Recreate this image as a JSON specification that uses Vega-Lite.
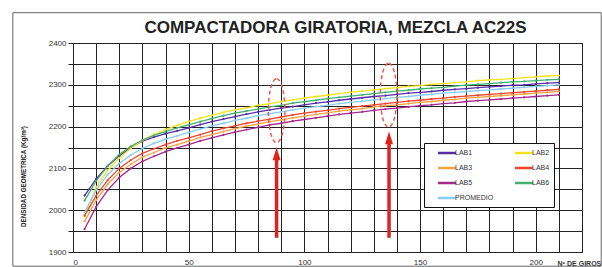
{
  "$schema": "https://vega.github.io/schema/vega-lite/v6.json",
  "width": 509,
  "height": 209,
  "autosize": "none",
  "padding": {"left": 73, "top": 43, "right": 20, "bottom": 15},
  "background": "white",
  "title": {"text": "COMPACTADORA GIRATORIA, MEZCLA AC22S", "font": "Liberation Sans", "fontSize": 17, "fontWeight": "bold", "color": "#222", "anchor": "middle", "dx": 8, "offset": -38, "baseline": "alphabetic"},
  "config": {"view": {"stroke": "#222", "strokeWidth": 1}, "font": "Liberation Sans"},
  "datasets": {
    "curves": [
      {"x": 5, "LAB1": 2035, "LAB2": 1985, "LAB3": 1973, "LAB4": 1987, "LAB5": 1955, "LAB6": 2023, "PROMEDIO": 1995},
      {"x": 10, "LAB1": 2075, "LAB2": 2055, "LAB3": 2024, "LAB4": 2035, "LAB5": 2008, "LAB6": 2070, "PROMEDIO": 2048},
      {"x": 15, "LAB1": 2106, "LAB2": 2095, "LAB3": 2062, "LAB4": 2072, "LAB5": 2048, "LAB6": 2106, "PROMEDIO": 2085},
      {"x": 20, "LAB1": 2130, "LAB2": 2125, "LAB3": 2090, "LAB4": 2100, "LAB5": 2078, "LAB6": 2133, "PROMEDIO": 2112},
      {"x": 25, "LAB1": 2150, "LAB2": 2148, "LAB3": 2110, "LAB4": 2120, "LAB5": 2100, "LAB6": 2153, "PROMEDIO": 2132},
      {"x": 30, "LAB1": 2165, "LAB2": 2167, "LAB3": 2127, "LAB4": 2136, "LAB5": 2117, "LAB6": 2168, "PROMEDIO": 2148},
      {"x": 35, "LAB1": 2175, "LAB2": 2181, "LAB3": 2138, "LAB4": 2147, "LAB5": 2129, "LAB6": 2179, "PROMEDIO": 2160},
      {"x": 40, "LAB1": 2183, "LAB2": 2193, "LAB3": 2149, "LAB4": 2157, "LAB5": 2140, "LAB6": 2188, "PROMEDIO": 2170},
      {"x": 45, "LAB1": 2190, "LAB2": 2203, "LAB3": 2157, "LAB4": 2166, "LAB5": 2149, "LAB6": 2197, "PROMEDIO": 2178},
      {"x": 50, "LAB1": 2197, "LAB2": 2212, "LAB3": 2165, "LAB4": 2173, "LAB5": 2157, "LAB6": 2204, "PROMEDIO": 2186},
      {"x": 55, "LAB1": 2205, "LAB2": 2220, "LAB3": 2174, "LAB4": 2181, "LAB5": 2166, "LAB6": 2212, "PROMEDIO": 2194},
      {"x": 60, "LAB1": 2212, "LAB2": 2227, "LAB3": 2181, "LAB4": 2189, "LAB5": 2173, "LAB6": 2219, "PROMEDIO": 2202},
      {"x": 65, "LAB1": 2218, "LAB2": 2234, "LAB3": 2188, "LAB4": 2196, "LAB5": 2180, "LAB6": 2226, "PROMEDIO": 2208},
      {"x": 70, "LAB1": 2224, "LAB2": 2240, "LAB3": 2195, "LAB4": 2202, "LAB5": 2187, "LAB6": 2232, "PROMEDIO": 2215},
      {"x": 75, "LAB1": 2230, "LAB2": 2245, "LAB3": 2201, "LAB4": 2208, "LAB5": 2193, "LAB6": 2237, "PROMEDIO": 2220},
      {"x": 80, "LAB1": 2235, "LAB2": 2251, "LAB3": 2206, "LAB4": 2213, "LAB5": 2198, "LAB6": 2242, "PROMEDIO": 2226},
      {"x": 85, "LAB1": 2240, "LAB2": 2255, "LAB3": 2212, "LAB4": 2218, "LAB5": 2204, "LAB6": 2247, "PROMEDIO": 2231},
      {"x": 90, "LAB1": 2244, "LAB2": 2260, "LAB3": 2216, "LAB4": 2223, "LAB5": 2208, "LAB6": 2251, "PROMEDIO": 2235},
      {"x": 95, "LAB1": 2248, "LAB2": 2264, "LAB3": 2221, "LAB4": 2228, "LAB5": 2213, "LAB6": 2256, "PROMEDIO": 2240},
      {"x": 100, "LAB1": 2252, "LAB2": 2268, "LAB3": 2225, "LAB4": 2232, "LAB5": 2217, "LAB6": 2260, "PROMEDIO": 2244},
      {"x": 105, "LAB1": 2256, "LAB2": 2272, "LAB3": 2229, "LAB4": 2236, "LAB5": 2221, "LAB6": 2263, "PROMEDIO": 2248},
      {"x": 110, "LAB1": 2259, "LAB2": 2275, "LAB3": 2233, "LAB4": 2239, "LAB5": 2225, "LAB6": 2267, "PROMEDIO": 2251},
      {"x": 115, "LAB1": 2263, "LAB2": 2279, "LAB3": 2237, "LAB4": 2243, "LAB5": 2229, "LAB6": 2270, "PROMEDIO": 2255},
      {"x": 120, "LAB1": 2266, "LAB2": 2282, "LAB3": 2240, "LAB4": 2246, "LAB5": 2232, "LAB6": 2273, "PROMEDIO": 2258},
      {"x": 125, "LAB1": 2269, "LAB2": 2285, "LAB3": 2243, "LAB4": 2249, "LAB5": 2235, "LAB6": 2276, "PROMEDIO": 2261},
      {"x": 130, "LAB1": 2272, "LAB2": 2288, "LAB3": 2247, "LAB4": 2252, "LAB5": 2239, "LAB6": 2279, "PROMEDIO": 2264},
      {"x": 135, "LAB1": 2274, "LAB2": 2291, "LAB3": 2250, "LAB4": 2255, "LAB5": 2242, "LAB6": 2282, "PROMEDIO": 2267},
      {"x": 140, "LAB1": 2277, "LAB2": 2293, "LAB3": 2252, "LAB4": 2258, "LAB5": 2244, "LAB6": 2285, "PROMEDIO": 2270},
      {"x": 145, "LAB1": 2280, "LAB2": 2296, "LAB3": 2255, "LAB4": 2261, "LAB5": 2247, "LAB6": 2287, "PROMEDIO": 2272},
      {"x": 150, "LAB1": 2282, "LAB2": 2298, "LAB3": 2258, "LAB4": 2263, "LAB5": 2250, "LAB6": 2290, "PROMEDIO": 2275},
      {"x": 155, "LAB1": 2284, "LAB2": 2301, "LAB3": 2260, "LAB4": 2266, "LAB5": 2252, "LAB6": 2292, "PROMEDIO": 2277},
      {"x": 160, "LAB1": 2287, "LAB2": 2303, "LAB3": 2263, "LAB4": 2268, "LAB5": 2255, "LAB6": 2294, "PROMEDIO": 2280},
      {"x": 165, "LAB1": 2289, "LAB2": 2305, "LAB3": 2265, "LAB4": 2271, "LAB5": 2257, "LAB6": 2297, "PROMEDIO": 2282},
      {"x": 170, "LAB1": 2291, "LAB2": 2307, "LAB3": 2268, "LAB4": 2273, "LAB5": 2260, "LAB6": 2299, "PROMEDIO": 2284},
      {"x": 175, "LAB1": 2293, "LAB2": 2310, "LAB3": 2270, "LAB4": 2275, "LAB5": 2262, "LAB6": 2301, "PROMEDIO": 2286},
      {"x": 180, "LAB1": 2295, "LAB2": 2312, "LAB3": 2272, "LAB4": 2277, "LAB5": 2264, "LAB6": 2303, "PROMEDIO": 2288},
      {"x": 185, "LAB1": 2297, "LAB2": 2313, "LAB3": 2274, "LAB4": 2279, "LAB5": 2266, "LAB6": 2305, "PROMEDIO": 2290},
      {"x": 190, "LAB1": 2299, "LAB2": 2315, "LAB3": 2276, "LAB4": 2281, "LAB5": 2268, "LAB6": 2307, "PROMEDIO": 2292},
      {"x": 195, "LAB1": 2300, "LAB2": 2317, "LAB3": 2278, "LAB4": 2283, "LAB5": 2270, "LAB6": 2308, "PROMEDIO": 2294},
      {"x": 200, "LAB1": 2302, "LAB2": 2319, "LAB3": 2280, "LAB4": 2285, "LAB5": 2272, "LAB6": 2310, "PROMEDIO": 2296},
      {"x": 205, "LAB1": 2304, "LAB2": 2321, "LAB3": 2282, "LAB4": 2287, "LAB5": 2274, "LAB6": 2312, "PROMEDIO": 2298},
      {"x": 210, "LAB1": 2305, "LAB2": 2322, "LAB3": 2284, "LAB4": 2289, "LAB5": 2276, "LAB6": 2313, "PROMEDIO": 2300}
    ],
    "ellipses": [
      {"x": 88, "y": 2238},
      {"x": 136.4, "y": 2275}
    ],
    "arrows": [
      {"x": 88, "y0": 1934, "y1": 2131},
      {"x": 136.6, "y0": 1934, "y1": 2169}
    ],
    "frame": [
      {"x0": -26, "x1": 228.3, "y0": 1866, "y1": 2472.5}
    ]
  },
  "layer": [
    {
      "data": {"name": "curves"},
      "transform": [{"fold": ["LAB1", "LAB2", "LAB3", "LAB4", "LAB5", "LAB6", "PROMEDIO"], "as": ["serie", "dens"]}],
      "mark": {"type": "line", "strokeWidth": 1.3, "point": {"filled": true, "size": 5}},
      "encoding": {
        "x": {
          "field": "x", "type": "quantitative",
          "scale": {"domain": [0, 220], "nice": false, "zero": false},
          "axis": {
            "values": [0, 10, 20, 30, 40, 50, 60, 70, 80, 90, 100, 110, 120, 130, 140, 150, 160, 170, 180, 190, 200, 210, 220],
            "tickCount": 40,
            "labelExpr": "datum.value % 50 === 0 && datum.value <= 200 ? datum.label : ''",
            "labelOverlap": false,
            "grid": true, "gridColor": "#222", "gridWidth": 1, "gridOpacity": 1,
            "ticks": false, "domain": false,
            "labelFontSize": 8, "labelColor": "#333", "labelPadding": 6, "labelFont": "Liberation Sans",
            "title": "Nº DE GIROS", "titleFontSize": 7, "titleFontWeight": "bold", "titleColor": "#333",
            "titleX": 484, "titleY": 11, "titleAlign": "left", "titleBaseline": "middle", "titleAnchor": null
          }
        },
        "y": {
          "field": "dens", "type": "quantitative",
          "scale": {"domain": [1900, 2400], "nice": false, "zero": false},
          "axis": {
            "values": [1900, 1950, 2000, 2050, 2100, 2150, 2200, 2250, 2300, 2350, 2400],
            "tickCount": 20,
            "labelExpr": "datum.value % 100 === 0 ? datum.label : ''",
            "labelOverlap": false,
            "format": "d",
            "grid": true, "gridColor": "#222", "gridWidth": 1, "gridOpacity": 1,
            "ticks": true, "tickSize": 5, "tickColor": "#222", "domain": false,
            "labelFontSize": 8, "labelColor": "#333", "labelPadding": 2, "labelFont": "Liberation Sans",
            "title": "DENSIDAD GEOMETRICA (Kg/m³)", "titleFontSize": 6.3, "titleFontWeight": "bold", "titleColor": "#222",
            "titleX": -50, "titleY": 133, "titleBaseline": "middle", "titleAlign": "center"
          }
        },
        "color": {
          "field": "serie", "type": "nominal",
          "scale": {
            "domain": ["LAB1", "LAB2", "LAB3", "LAB4", "LAB5", "LAB6", "PROMEDIO"],
            "range": ["#5a2ea6", "#f2e21c", "#f5a045", "#ee4430", "#a3298f", "#43b06f", "#86cdf2"]
          },
          "legend": {
            "title": null, "orient": "none", "legendX": 351, "legendY": 100,
            "direction": "horizontal",
            "columns": 2, "gridAlign": "all", "columnPadding": 11, "rowPadding": 4,
            "symbolType": "M-2,0L2,0", "symbolSize": 81, "symbolStrokeWidth": 2.5, "symbolOffset": 13,
            "labelFontSize": 7, "labelColor": "#333", "labelOffset": 2, "labelFont": "Liberation Sans",
            "padding": 4, "strokeColor": "#111", "fillColor": "white"
          }
        }
      }
    },
    {
      "data": {"name": "frame"},
      "mark": {"type": "rect", "filled": false, "stroke": "#666", "strokeWidth": 1, "clip": false},
      "encoding": {
        "x": {"field": "x0", "type": "quantitative"},
        "x2": {"field": "x1"},
        "y": {"field": "y0", "type": "quantitative"},
        "y2": {"field": "y1"}
      }
    },
    {
      "data": {"name": "ellipses"},
      "mark": {"type": "point", "shape": "M0,-1A0.26,1,0,1,1,0,1A0.26,1,0,1,1,0,-1Z", "size": 4096, "filled": false, "stroke": "#ee5a48", "strokeWidth": 1.5, "strokeDash": [4, 3], "opacity": 1},
      "encoding": {
        "x": {"field": "x", "type": "quantitative"},
        "y": {"field": "y", "type": "quantitative"}
      }
    },
    {
      "data": {"name": "arrows"},
      "mark": {"type": "rule", "color": "#e3201c", "strokeWidth": 3.5},
      "encoding": {
        "x": {"field": "x", "type": "quantitative"},
        "y": {"field": "y0", "type": "quantitative"},
        "y2": {"field": "y1"}
      }
    },
    {
      "data": {"name": "arrows"},
      "mark": {"type": "point", "shape": "M0,-1L0.5,0.6L-0.5,0.6Z", "size": 256, "filled": true, "color": "#e3201c", "opacity": 1},
      "encoding": {
        "x": {"field": "x", "type": "quantitative"},
        "y": {"field": "y1", "type": "quantitative"}
      }
    }
  ]
}
